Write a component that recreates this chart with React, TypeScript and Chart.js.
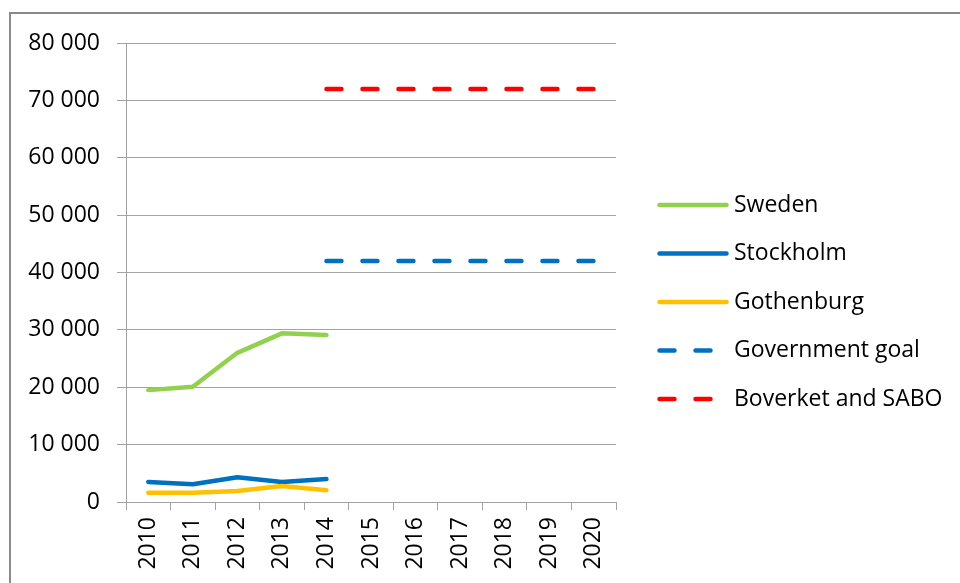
import React, { useEffect, useRef } from "react";
import { Chart, registerables } from "chart.js";

Chart.register(...registerables);

const years = ["2010", "2011", "2012", "2013", "2014", "2015", "2016", "2017", "2018", "2019", "2020"];
const sweden = [19500, 20100, 26000, 29400, 29100, null, null, null, null, null, null];
const stockholm = [3500, 3100, 4300, 3500, 4000, null, null, null, null, null, null];
const gothenburg = [1600, 1600, 1900, 2800, 2050, null, null, null, null, null, null];
const governmentGoal = [null, null, null, null, 42000, 42000, 42000, 42000, 42000, 42000, 42000];
const boverketSabo = [null, null, null, null, 72000, 72000, 72000, 72000, 72000, 72000, 72000];
const yTicks = [0, 10000, 20000, 30000, 40000, 50000, 60000, 70000, 80000];

const FONT = "'Open Sans', 'DejaVu Sans', sans-serif";
const GRID = "#a3a3a3";

function fmt(v: number): string {
  return String(v).replace(/\B(?=(\d{3})+(?!\d))/g, " ");
}

const legendPlugin = {
  id: "sideLegend",
  afterDraw(chart: any) {
    const ctx = chart.ctx;
    const area = chart.chartArea;
    const x0 = area.right + 43.5;
    const len = 67;
    const textX = x0 + 74.5;
    const y0 = 205;
    const step = 48.5;
    ctx.save();
    chart.data.datasets.forEach((ds: any, i: number) => {
      const y = y0 + i * step;
      ctx.beginPath();
      ctx.lineWidth = ds.borderWidth;
      ctx.strokeStyle = ds.borderColor;
      ctx.lineCap = "round";
      ctx.setLineDash(ds.borderDash || []);
      ctx.moveTo(x0, y);
      ctx.lineTo(x0 + len, y);
      ctx.stroke();
      ctx.setLineDash([]);
      ctx.fillStyle = "#000";
      ctx.font = `23px ${FONT}`;
      ctx.textAlign = "left";
      ctx.textBaseline = "middle";
      ctx.fillText(ds.label, textX, y);
    });
    ctx.restore();
  },
};

export default function App() {
  const ref = useRef<HTMLCanvasElement | null>(null);

  useEffect(() => {
    if (!ref.current) return;
    const common = {
      pointRadius: 0,
      pointHoverRadius: 0,
      borderWidth: 4.5,
      borderCapStyle: "round" as const,
      borderJoinStyle: "round" as const,
      tension: 0,
      fill: false,
    };
    const chart = new Chart(ref.current, {
      type: "line",
      data: {
        labels: years,
        datasets: [
          { ...common, label: "Sweden", data: sweden, borderColor: "#92d050", order: 5 },
          { ...common, label: "Stockholm", data: stockholm, borderColor: "#0070c0", order: 4 },
          { ...common, label: "Gothenburg", data: gothenburg, borderColor: "#ffc000", order: 3 },
          { ...common, label: "Government goal", data: governmentGoal, borderColor: "#0070c0", borderDash: [15, 21], order: 2 },
          { ...common, label: "Boverket and SABO", data: boverketSabo, borderColor: "#ff0000", borderDash: [15, 21], order: 1 },
        ],
      },
      options: {
        responsive: false,
        animation: false,
        devicePixelRatio: 1,
        layout: { padding: { left: 0, top: 43, right: 344, bottom: 0 } },
        plugins: {
          legend: { display: false },
          tooltip: { enabled: false },
        },
        scales: {
          x: {
            type: "category",
            offset: true,
            grid: {
              offset: true,
              drawOnChartArea: false,
              drawTicks: true,
              tickLength: 8,
              color: GRID,
              lineWidth: 1,
            },
            border: { color: GRID, width: 1 },
            ticks: {
              minRotation: 90,
              maxRotation: 90,
              autoSkip: false,
              padding: 7,
              color: "#000",
              font: { family: FONT, size: 23 },
            },
            afterFit(scale: any) {
              scale.height = 81;
            },
          },
          y: {
            min: 0,
            max: 80000,
            afterBuildTicks(scale: any) {
              scale.ticks = yTicks.map((v) => ({ value: v }));
            },
            grid: {
              drawTicks: true,
              tickLength: 9,
              color: GRID,
              lineWidth: 1,
            },
            border: { color: GRID, width: 1 },
            ticks: {
              padding: 17,
              color: "#000",
              font: { family: FONT, size: 23 },
              callback: (v: any) => fmt(Number(v)),
            },
            afterFit(scale: any) {
              scale.width = 126;
            },
          },
        },
      },
      plugins: [legendPlugin],
    });
    return () => chart.destroy();
  }, []);

  return (
    <div
      style={{
        position: "fixed",
        left: 0,
        top: 0,
        width: 960,
        height: 583,
        overflow: "hidden",
        background: "#fff",
      }}
    >
      <div
        style={{
          position: "absolute",
          left: 9,
          top: 12,
          width: 1100,
          height: 800,
          border: "2px solid #8a8a8a",
          boxSizing: "border-box",
        }}
      />
      <canvas ref={ref} width={960} height={583} style={{ position: "absolute", left: 0, top: 0 }} />
    </div>
  );
}
